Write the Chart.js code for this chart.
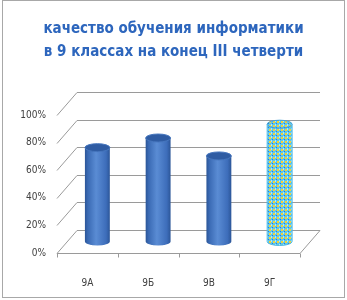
<!DOCTYPE html>
<html>
<head>
<meta charset="utf-8">
<script src="https://cdn.jsdelivr.net/npm/chart.js@4/dist/chart.umd.min.js"></script>
<style>
  html, body { margin: 0; padding: 0; background: #fff; }
  #wrap { width: 347px; height: 300px; position: relative; }
</style>
</head>
<body>
<div id="wrap"><canvas id="myChart" width="347" height="300"></canvas></div>
<script>
// chart data
const classes = ['9А', '9Б', '9В', '9Г'];
const quality = [68, 75, 62, 85];
const yTicks = [0, 20, 40, 60, 80, 100];
const titleLines = ['качество обучения информатики', 'в 9 классах на конец III четверти'];

// depth of the fake 3d box
const DX = 20, DY = 23;
const FONT = "'Liberation Sans Narrow', 'DejaVu Sans Condensed', sans-serif";

// cyan / yellow pattern for the last bar
function makePattern(ctx) {
  const c = document.createElement('canvas');
  c.width = 4; c.height = 4;
  const p = c.getContext('2d');
  p.fillStyle = '#5cc6ec';
  p.fillRect(0, 0, 4, 4);
  p.fillStyle = '#f2d23a';
  p.fillRect(1, 1, 2, 2);
  p.fillStyle = '#2f7fd0';
  p.fillRect(0, 3, 1, 1);
  p.fillStyle = '#a8ecfa';
  p.fillRect(3, 0, 1, 2);
  return ctx.createPattern(c, 'repeat');
}

const box3d = {
  id: 'box3d',
  beforeDatasetsDraw(chart) {
    const { ctx, chartArea: a, scales: { y } } = chart;
    ctx.save();
    ctx.strokeStyle = '#9a9a9a';
    ctx.lineWidth = 1;
    yTicks.forEach(v => {
      const py = Math.round(y.getPixelForValue(v)) + 0.5;
      ctx.beginPath();
      ctx.moveTo(a.left, py);
      ctx.lineTo(a.left + DX, py - DY);
      ctx.lineTo(a.right + DX, py - DY);
      ctx.stroke();
    });
    // floor
    const b = Math.round(a.bottom) + 0.5;
    ctx.beginPath();
    ctx.moveTo(a.left, b);
    ctx.lineTo(a.right, b);
    ctx.lineTo(a.right + DX, b - DY);
    ctx.stroke();
    // category ticks
    const step = (a.right - a.left) / classes.length;
    for (let i = 0; i <= classes.length; i++) {
      const px = Math.round(a.left + i * step) + 0.5;
      ctx.beginPath();
      ctx.moveTo(px, b);
      ctx.lineTo(px, b + 4);
      ctx.stroke();
    }
    ctx.restore();
  },
  afterDatasetsDraw(chart) {
    const { ctx } = chart;
    const meta = chart.getDatasetMeta(0);
    ctx.save();
    meta.data.forEach((el, i) => {
      const w = el.width;
      const cx = el.x + DX / 2;
      const top = el.y - DY / 2;
      const base = el.base - DY / 2;
      const l = cx - w / 2, r = cx + w / 2;
      const ry = 4;
      const last = i === classes.length - 1;
      let body, cap;
      if (last) {
        body = makePattern(ctx);
        cap = body;
      } else {
        const g = ctx.createLinearGradient(l, 0, r, 0);
        g.addColorStop(0, '#2b5597');
        g.addColorStop(0.12, '#3a6ab4');
        g.addColorStop(0.45, '#5a8cd4');
        g.addColorStop(0.85, '#3d6dba');
        g.addColorStop(1, '#2c5698');
        body = g;
        cap = '#2f5ca3';
      }
      // body with rounded bottom
      ctx.beginPath();
      ctx.moveTo(l, top);
      ctx.lineTo(l, base);
      ctx.ellipse(cx, base, w / 2, ry, 0, Math.PI, 0, true);
      ctx.lineTo(r, top);
      ctx.closePath();
      ctx.fillStyle = body;
      ctx.fill();
      if (last) {
        ctx.strokeStyle = '#4fb8e6';
        ctx.stroke();
      }
      // top cap
      ctx.beginPath();
      ctx.ellipse(cx, top, w / 2, ry, 0, 0, Math.PI * 2);
      ctx.fillStyle = cap;
      ctx.fill();
      ctx.strokeStyle = last ? '#3f9fd8' : '#4676be';
      ctx.stroke();
    });
    ctx.restore();
  },
  afterDraw(chart) {
    const { ctx } = chart;
    ctx.save();
    ctx.strokeStyle = '#a8a8a8';
    ctx.lineWidth = 1;
    ctx.strokeRect(2.5, 0.5, 342, 297);
    ctx.restore();
  }
};

const ctx = document.getElementById('myChart').getContext('2d');
const chart = new Chart(ctx, {
  type: 'bar',
  data: {
    labels: classes,
    datasets: [{
      label: 'качество',
      data: quality,
      backgroundColor: 'rgba(0,0,0,0)',
      borderWidth: 0,
      barPercentage: 0.41,
      categoryPercentage: 1
    }]
  },
  options: {
    responsive: false,
    animation: false,
    layout: { padding: 0 },
    plugins: {
      legend: { display: false },
      tooltip: { enabled: false },
      title: {
        display: true,
        text: titleLines,
        color: '#2d66bd',
        font: { family: FONT, size: 15, weight: 'bold', lineHeight: '23px' },
        padding: { top: 17.5, bottom: 51.5 }
      }
    },
    scales: {
      x: {
        grid: { display: false },
        border: { display: false },
        ticks: {
          padding: 16,
          color: '#404040',
          font: { family: FONT, size: 10 }
        },
        afterFit: s => { s.height = 47; }
      },
      y: {
        min: 0,
        max: 100,
        grid: { display: false },
        border: { display: false },
        ticks: {
          stepSize: 20,
          padding: 3,
          color: '#404040',
          font: { family: FONT, size: 10 },
          callback: v => v + '%'
        },
        afterFit: s => { s.width = 57; }
      },
      // empty right axis keeps room for the depth of the box
      yRight: {
        position: 'right',
        min: 0,
        max: 100,
        grid: { display: false },
        border: { display: false },
        ticks: { display: false },
        afterFit: s => { s.width = 47; }
      }
    }
  },
  plugins: [box3d]
});
</script>
</body>
</html>
